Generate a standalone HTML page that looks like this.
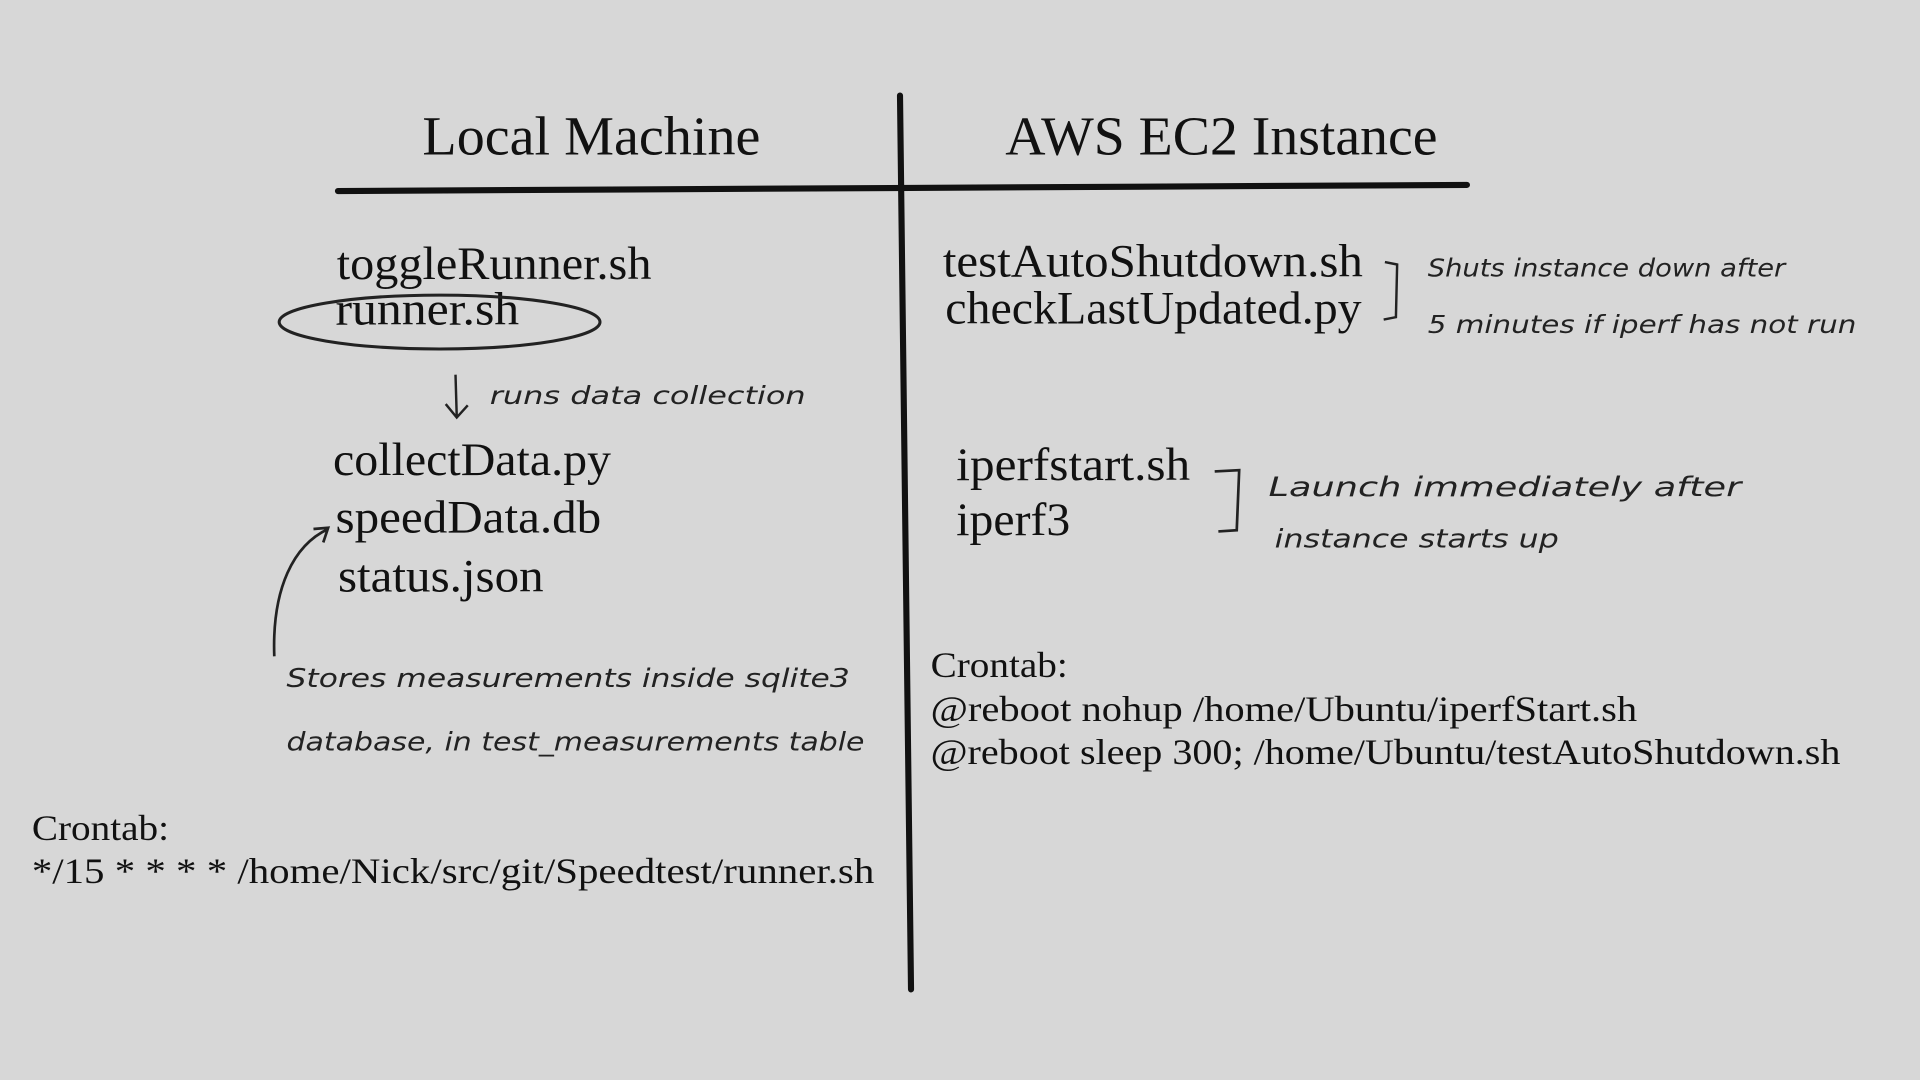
<!DOCTYPE html>
<html><head><meta charset="utf-8"><style>
html,body{margin:0;padding:0;background:#d7d7d7;}
svg{display:block;}
.s{font-family:"Liberation Serif",serif;fill:#111;}
.h{font-family:"DejaVu Sans","Liberation Sans",sans-serif;fill:#222;font-weight:300;}
</style></head><body>
<svg width="1920" height="1080" viewBox="0 0 1568 882" xmlns="http://www.w3.org/2000/svg">
<rect width="1568" height="882" fill="#d7d7d7"/>
<path d="M735 78 L744 808" stroke="#111" stroke-width="5" fill="none" stroke-linecap="round"/>
<path d="M276 156 L1198 151" stroke="#111" stroke-width="5" fill="none" stroke-linecap="round"/>
<text class="s" x="345" y="126" font-size="45" textLength="276" lengthAdjust="spacingAndGlyphs">Local Machine</text>
<text class="s" x="821" y="126" font-size="45" textLength="353" lengthAdjust="spacingAndGlyphs">AWS EC2 Instance</text>
<text class="s" x="275" y="228" font-size="38" textLength="257" lengthAdjust="spacingAndGlyphs">toggleRunner.sh</text>
<text class="s" x="274" y="265" font-size="38" textLength="150" lengthAdjust="spacingAndGlyphs">runner.sh</text>
<ellipse cx="359" cy="263" rx="131" ry="22" fill="none" stroke="#222" stroke-width="2.5"/>
<path d="M372 306 L373 340 M364 330 L373 341 L382 331" stroke="#222" stroke-width="2" fill="none"/>
<text class="h" x="400" y="330" font-size="20" textLength="258" font-style="italic" lengthAdjust="spacingAndGlyphs">runs data collection</text>
<text class="s" x="272" y="388" font-size="38" textLength="227" lengthAdjust="spacingAndGlyphs">collectData.py</text>
<text class="s" x="274" y="435" font-size="38" textLength="217" lengthAdjust="spacingAndGlyphs">speedData.db</text>
<text class="s" x="276" y="483" font-size="38" textLength="168" lengthAdjust="spacingAndGlyphs">status.json</text>
<path d="M224 536 C222 480 240 445 268 432 M256 432 L268 431 L264 443" stroke="#222" stroke-width="2.2" fill="none"/>
<text class="h" x="234" y="561" font-size="21" textLength="460" font-style="italic" lengthAdjust="spacingAndGlyphs">Stores measurements inside sqlite3</text>
<text class="h" x="234" y="613" font-size="21" textLength="472" font-style="italic" lengthAdjust="spacingAndGlyphs">database, in test_measurements table</text>
<text class="s" x="26" y="686" font-size="29" textLength="112" lengthAdjust="spacingAndGlyphs">Crontab:</text>
<text class="s" x="26" y="721" font-size="29" textLength="688" lengthAdjust="spacingAndGlyphs">*/15 * * * * /home/Nick/src/git/Speedtest/runner.sh</text>
<text class="s" x="770" y="226" font-size="38" textLength="343" lengthAdjust="spacingAndGlyphs">testAutoShutdown.sh</text>
<text class="s" x="772" y="264" font-size="38" textLength="340" lengthAdjust="spacingAndGlyphs">checkLastUpdated.py</text>
<path d="M1131 214 L1141 216 L1140 259 L1130 261" stroke="#222" stroke-width="2" fill="none"/>
<text class="h" x="1166" y="226" font-size="20" textLength="292" font-style="italic" lengthAdjust="spacingAndGlyphs">Shuts instance down after</text>
<text class="h" x="1166" y="272" font-size="20" textLength="350" font-style="italic" lengthAdjust="spacingAndGlyphs">5 minutes if iperf has not run</text>
<text class="s" x="781" y="392" font-size="38" textLength="191" lengthAdjust="spacingAndGlyphs">iperfstart.sh</text>
<text class="s" x="781" y="437" font-size="38" textLength="93" lengthAdjust="spacingAndGlyphs">iperf3</text>
<path d="M992 385 L1012 384 L1010 433 L995 434" stroke="#222" stroke-width="2.2" fill="none"/>
<text class="h" x="1036" y="405" font-size="22" textLength="386" font-style="italic" lengthAdjust="spacingAndGlyphs">Launch immediately after</text>
<text class="h" x="1041" y="447" font-size="21" textLength="232" font-style="italic" lengthAdjust="spacingAndGlyphs">instance starts up</text>
<text class="s" x="760" y="553" font-size="29" textLength="112" lengthAdjust="spacingAndGlyphs">Crontab:</text>
<text class="s" x="760" y="589" font-size="29" textLength="577" lengthAdjust="spacingAndGlyphs">@reboot nohup /home/Ubuntu/iperfStart.sh</text>
<text class="s" x="760" y="624" font-size="29" textLength="743" lengthAdjust="spacingAndGlyphs">@reboot sleep 300; /home/Ubuntu/testAutoShutdown.sh</text>
</svg>
</body></html>
